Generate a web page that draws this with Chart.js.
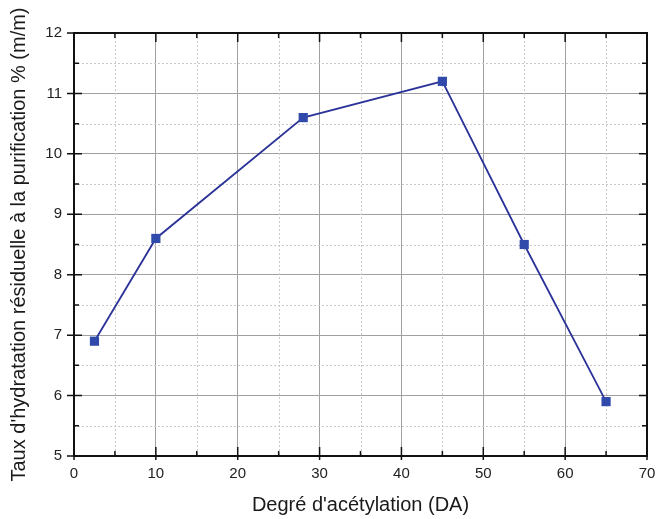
<!DOCTYPE html>
<html>
<head>
<meta charset="utf-8">
<script src="https://cdn.jsdelivr.net/npm/chart.js@4/dist/chart.umd.min.js"></script>
<style>
  body { margin: 0; background: #fff; }
  canvas { display: block; }
</style>
</head>
<body>
<canvas id="chart" width="657" height="519"></canvas>
<script>
// Data
const degreAcetylation = [2.5, 10, 28, 45, 55, 65];
const tauxHydratation = [6.9, 8.6, 10.6, 11.2, 8.5, 5.9];

const xTitle = "Degré d'acétylation (DA)";
const yTitle = "Taux d'hydratation résiduelle à la purification % (m/m)";

const points = degreAcetylation.map((x, i) => ({ x: x, y: tauxHydratation[i] }));

// minor dotted grid + inward ticks on all four sides, Origin style
const framePlugin = {
    id: 'frame',
    beforeDatasetsDraw(chart) {
        const { ctx, chartArea: a, scales: { x, y } } = chart;
        ctx.save();
        ctx.strokeStyle = '#c8c8c8';
        ctx.lineWidth = 1;
        ctx.setLineDash([2, 2]);
        for (let v = 5; v < 70; v += 10) {
            const px = Math.round(x.getPixelForValue(v)) + 0.5;
            ctx.beginPath(); ctx.moveTo(px, a.top); ctx.lineTo(px, a.bottom); ctx.stroke();
        }
        for (let v = 5.5; v < 12; v += 1) {
            const py = Math.round(y.getPixelForValue(v)) + 0.5;
            ctx.beginPath(); ctx.moveTo(a.left, py); ctx.lineTo(a.right, py); ctx.stroke();
        }
        ctx.restore();
    },
    afterDraw(chart) {
        const { ctx, chartArea: a, scales: { x, y } } = chart;
        ctx.save();
        ctx.strokeStyle = '#111';
        ctx.lineWidth = 2;
        ctx.strokeRect(a.left, a.top, a.right - a.left, a.bottom - a.top);
        ctx.lineWidth = 1.5;
        for (let v = 0; v <= 70; v += 5) {
            const px = x.getPixelForValue(v);
            const major = v % 10 === 0;
            const len = major ? 9 : 5;
            ctx.beginPath();
            ctx.moveTo(px, a.bottom + (major ? 4 : 0)); ctx.lineTo(px, a.bottom - len);
            ctx.moveTo(px, a.top); ctx.lineTo(px, a.top + len);
            ctx.stroke();
        }
        for (let v = 5; v <= 12; v += 0.5) {
            const py = y.getPixelForValue(v);
            const major = Number.isInteger(v);
            const len = major ? 8 : 5;
            ctx.beginPath();
            ctx.moveTo(a.left - (major ? 7 : 0), py); ctx.lineTo(a.left + len, py);
            ctx.moveTo(a.right, py); ctx.lineTo(a.right - len, py);
            ctx.stroke();
        }
        ctx.restore();
    }
};

new Chart(document.getElementById('chart'), {
    type: 'scatter',
    data: {
        datasets: [{
            data: points,
            showLine: true,
            borderColor: '#2b3399',
            borderWidth: 1.8,
            pointStyle: 'rect',
            pointRadius: 6.5,
            pointBackgroundColor: '#2f4aab',
            pointBorderColor: '#2f4aab',
            pointBorderWidth: 0,
            tension: 0
        }]
    },
    options: {
        responsive: false,
        animation: false,
        layout: { padding: { top: 33, right: 10, left: 0, bottom: 0 } },
        plugins: { legend: { display: false }, tooltip: { enabled: false } },
        scales: {
            x: {
                type: 'linear',
                min: 0,
                max: 70,
                afterFit(scale) {
                    scale.height = 63;
                    scale.paddingLeft = 0;
                    scale.paddingRight = 0;
                },
                ticks: {
                    stepSize: 10,
                    padding: 9,
                    color: '#222',
                    font: { family: 'Liberation Sans, Arial, sans-serif', size: 15 }
                },
                grid: { color: '#a0a0a0', lineWidth: 1, drawTicks: false },
                border: { display: false },
                title: {
                    display: true,
                    text: xTitle,
                    color: '#1a1a1a',
                    padding: 2,
                    font: { family: 'Liberation Sans, Arial, sans-serif', size: 20 }
                }
            },
            y: {
                type: 'linear',
                min: 5,
                max: 12,
                afterFit(scale) {
                    scale.width = 74;
                    scale.paddingTop = 0;
                    scale.paddingBottom = 0;
                },
                ticks: {
                    stepSize: 1,
                    padding: 12,
                    color: '#222',
                    font: { family: 'Liberation Sans, Arial, sans-serif', size: 15 }
                },
                grid: { color: '#a0a0a0', lineWidth: 1, drawTicks: false },
                border: { display: false },
                title: {
                    display: true,
                    text: yTitle,
                    color: '#1a1a1a',
                    padding: 7,
                    font: { family: 'Liberation Sans, Arial, sans-serif', size: 20 }
                }
            }
        }
    },
    plugins: [framePlugin]
});
</script>
</body>
</html>
